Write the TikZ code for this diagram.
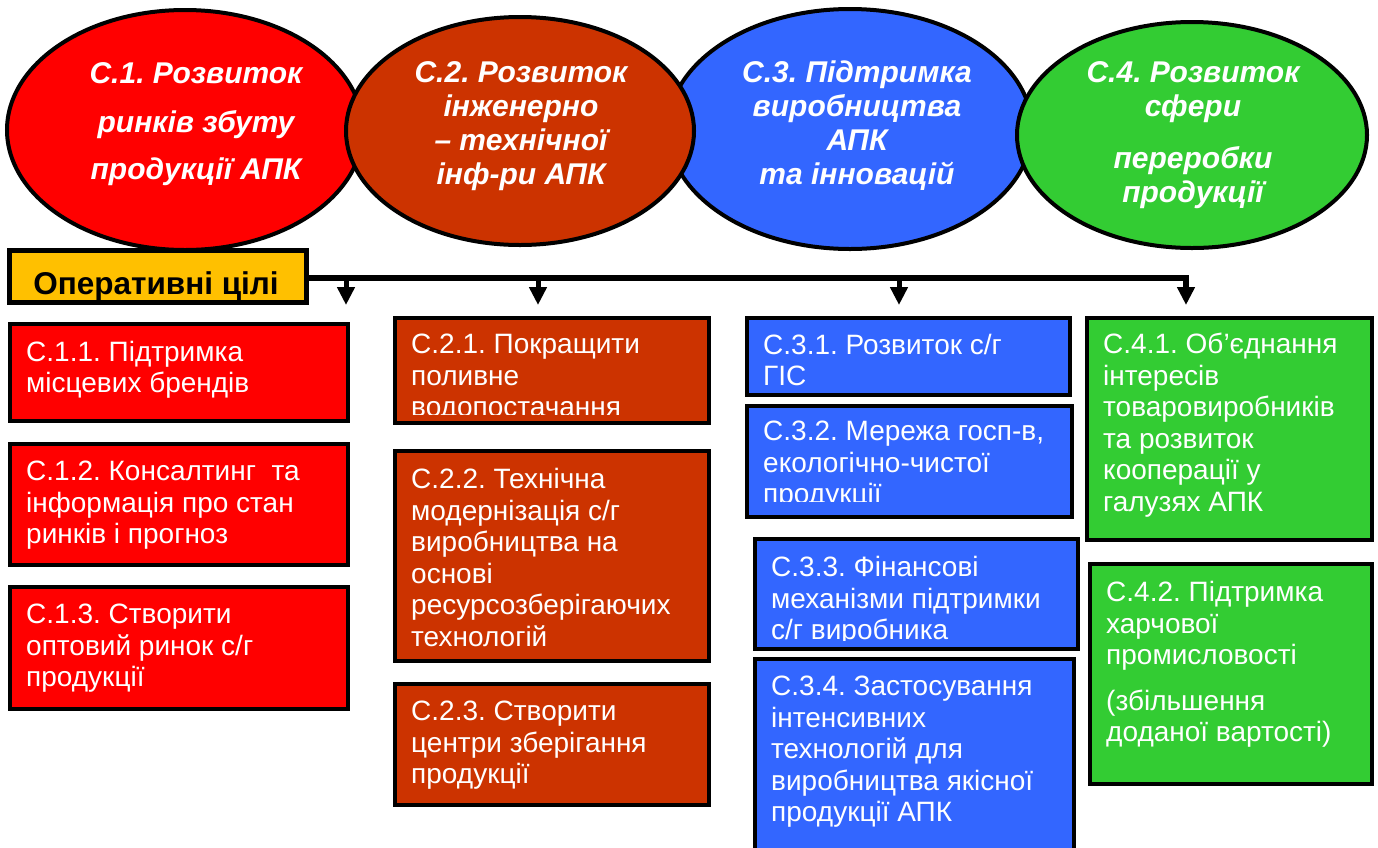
\documentclass[tikz,border=0pt]{standalone}
\usepackage{fontspec}
\setmainfont{Liberation Sans}
\frenchspacing
\usetikzlibrary{positioning,arrows.meta,shapes.geometric}

\definecolor{cred}{HTML}{FF0000}
\definecolor{cbrown}{HTML}{CC3300}
\definecolor{cblue}{HTML}{3366FF}
\definecolor{cgreen}{HTML}{33CC33}
\definecolor{cgold}{HTML}{FFC000}

\begin{document}
\begin{tikzpicture}[x=1pt,y=-1pt,
  aim/.style={ellipse,draw=black,line width=4pt,inner sep=0pt},
  aimtext/.style={text=white,font=\fontsize{30}{34}\selectfont\bfseries\itshape,align=center,inner sep=0pt,anchor=north},
  goal/.style={rectangle,draw=black,line width=4pt,inner sep=0pt,anchor=north west},
  goaltext/.style={text=white,font=\fontsize{28}{31.5}\selectfont,align=left,inner sep=0pt,anchor=north west},
  bus/.style={line width=6pt},
  drop/.style={line width=5pt,-{Triangle[length=18pt,width=17pt]}}]
  \useasboundingbox (0,0) rectangle (1378,847);

  % strategic aims
  \node[aim,fill=cred,minimum width=356pt,minimum height=240pt] (e1) at (185,130) {};
  \node[aimtext] (e1text) at (196,62) {С.1. Розвиток\\[15pt]ринків збуту\\[13pt]продукції АПК};
  \node[aim,fill=cblue,minimum width=364pt,minimum height=240pt] (e3) at (850,129) {};
  \node[aimtext] (e3text) at (857,61) {С.3. Підтримка\\виробництва\\АПК\\та інновацій};
  \node[aim,fill=cbrown,minimum width=348pt,minimum height=228pt] (e2) at (520,131) {};
  \node[aimtext] (e2text) at (521,61) {С.2. Розвиток\\інженерно\\– технічної\\інф-ри АПК};
  \node[aim,fill=cgreen,minimum width=350pt,minimum height=226pt] (e4) at (1192,135) {};
  \node[aimtext] (e4text) at (1193,61) {С.4. Розвиток\\сфери\\[18pt]переробки\\продукції};

  % operative goals header
  \node[rectangle,draw=black,line width=4.5pt,fill=cgold,minimum width=297pt,minimum height=52pt,inner sep=0pt,anchor=north west] (hdr) at (7,248) {};
  \node[font=\fontsize{31.5}{34}\selectfont\bfseries,inner sep=0pt,anchor=base] (hdrtext) at (156,294) {Оперативні цілі};

  \coordinate (a1) at (346,305);
  \coordinate (a2) at (538,305);
  \coordinate (a3) at (899,305);
  \coordinate (a4) at (1186,305);
  \draw[bus,-{Triangle[length=18pt,width=17pt]}] ([yshift=-2pt]hdr.east) -| (a4);
  \draw[drop] ([yshift=-2pt]hdr.east -| a1) -- (a1);
  \draw[drop] ([yshift=-2pt]hdr.east -| a2) -- (a2);
  \draw[drop] ([yshift=-2pt]hdr.east -| a3) -- (a3);

  % column 1
  \node[goal,fill=cred,minimum width=338pt,minimum height=97pt] (c11) at (8,322) {};
  \node[goaltext] (t11) at ([xshift=18pt,yshift=-19pt]c11.north west) {С.1.1. Підтримка\\місцевих брендів};
  \node[goal,fill=cred,minimum width=338pt,minimum height=121pt] (c12) at (8,442) {};
  \node[goaltext] (t12) at ([xshift=18pt,yshift=-19pt]c12.north west) {С.1.2. Консалтинг\ \ та\\інформація про стан\\ринків і прогноз};
  \node[goal,fill=cred,minimum width=338pt,minimum height=122pt] (c13) at (8,585) {};
  \node[goaltext] (t13) at ([xshift=18pt,yshift=-19pt]c13.north west) {С.1.3. Створити\\оптовий ринок с/г\\продукції};

  % column 2
  \node[goal,fill=cbrown,minimum width=314pt,minimum height=105pt] (c21) at (393,316) {};
  \begin{scope}
    \clip ([xshift=2pt,yshift=-2pt]c21.north west) rectangle ([xshift=-2pt,yshift=11pt]c21.south east);
    \node[goaltext] (t21) at ([xshift=18pt,yshift=-18pt]c21.north west) {С.2.1. Покращити\\поливне\\водопостачання};
  \end{scope}
  \node[goal,fill=cbrown,minimum width=314pt,minimum height=210pt] (c22) at (393,449) {};
  \node[goaltext] (t22) at ([xshift=18pt,yshift=-19pt]c22.north west) {С.2.2. Технічна\\модернізація с/г\\виробництва на\\основі\\ресурсозберігаючих\\технологій};
  \node[goal,fill=cbrown,minimum width=314pt,minimum height=121pt] (c23) at (393,682) {};
  \node[goaltext] (t23) at ([xshift=18pt,yshift=-19pt]c23.north west) {С.2.3. Створити\\центри зберігання\\продукції};

  % column 3
  \node[goal,fill=cblue,minimum width=323pt,minimum height=77pt] (c31) at (745,316) {};
  \node[goaltext] (t31) at ([xshift=18pt,yshift=-18pt]c31.north west) {С.3.1. Розвиток с/г\\ГІС};
  \node[goal,fill=cblue,minimum width=325pt,minimum height=111pt] (c32) at (745,404) {};
  \begin{scope}
    \clip ([xshift=2pt,yshift=-2pt]c32.north west) rectangle ([xshift=-2pt,yshift=18pt]c32.south east);
    \node[goaltext] (t32) at ([xshift=18pt,yshift=-17pt]c32.north west) {С.3.2. Мережа госп-в,\\екологічно-чистої\\продукції};
  \end{scope}
  \node[goal,fill=cblue,minimum width=323pt,minimum height=110pt] (c33) at (753,537) {};
  \begin{scope}
    \clip ([xshift=2pt,yshift=-2pt]c33.north west) rectangle ([xshift=-2pt,yshift=11pt]c33.south east);
    \node[goaltext] (t33) at ([xshift=18pt,yshift=-19pt]c33.north west) {С.3.3. Фінансові\\механізми підтримки\\с/г виробника};
  \end{scope}
  \node[goal,fill=cblue,minimum width=319pt,minimum height=210pt] (c34) at (753,657) {};
  \node[goaltext] (t34) at ([xshift=18pt,yshift=-19pt]c34.north west) {С.3.4. Застосування\\інтенсивних\\технологій для\\виробництва якісної\\продукції АПК};

  % column 4
  \node[goal,fill=cgreen,minimum width=285pt,minimum height=222pt] (c41) at (1085,316) {};
  \node[goaltext] (t41) at ([xshift=18pt,yshift=-17pt]c41.north west) {С.4.1. Об’єднання\\інтересів\\товаровиробників\\та розвиток\\кооперації у\\галузях АПК};
  \node[goal,fill=cgreen,minimum width=282pt,minimum height=220pt] (c42) at (1088,562) {};
  \node[goaltext] (t42) at ([xshift=18pt,yshift=-19pt]c42.north west) {С.4.2. Підтримка\\харчової\\промисловості\\[14pt](збільшення\\доданої вартості)};
\end{tikzpicture}
\end{document}
